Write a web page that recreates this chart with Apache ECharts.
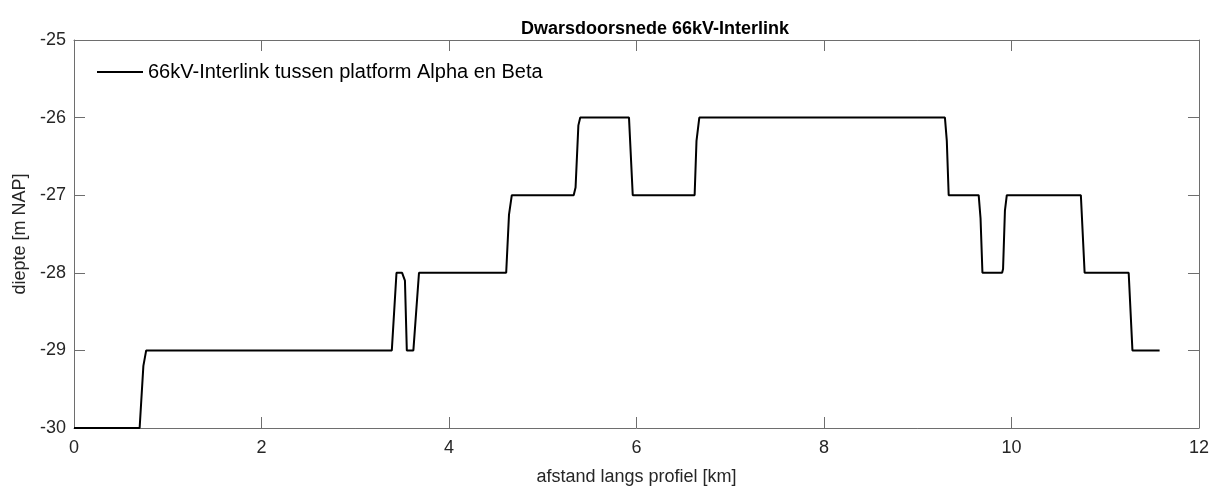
<!DOCTYPE html>
<html>
<head>
<meta charset="utf-8">
<script src="https://cdn.jsdelivr.net/npm/echarts@6/dist/echarts.min.js"></script>
<style>
  html, body { margin: 0; padding: 0; background: #fff; }
  #main { width: 1212px; height: 491px; }
</style>
</head>
<body>
<div id="main"></div>
<script>
// profiel: afstand [km] en diepte [m NAP]
var afstand = [0, 0.70, 0.74, 0.77, 3.39, 3.44, 3.50, 3.53, 3.55, 3.62, 3.68,
    4.61, 4.64, 4.67, 5.33, 5.35, 5.38, 5.40, 5.92, 5.96, 6.62, 6.64, 6.67,
    9.29, 9.31, 9.33, 9.65, 9.67, 9.69, 9.90, 9.91, 9.93, 9.95, 10.74, 10.78,
    11.25, 11.29, 11.58];
var diepte = [-30, -30, -29.2, -29, -29, -28, -28, -28.1, -29, -29, -28,
    -28, -27.25, -27, -27, -26.9, -26.1, -26, -26, -27, -27, -26.3, -26,
    -26, -26.3, -27, -27, -27.3, -28, -28, -27.95, -27.2, -27, -27, -28,
    -28, -29, -29];
var xTicks = [0, 2, 4, 6, 8, 10, 12];
var yTicks = [-30, -29, -28, -27, -26, -25];
var serieNaam = '66kV-Interlink tussen platform Alpha en Beta';

var myChart = echarts.init(document.getElementById('main'));

var punten = [];
for (var i = 0; i < afstand.length; i++) {
    punten.push([afstand[i], diepte[i]]);
}

var tekstKleur = '#262626';
var lijnKleur = '#6e6e6e';
var font = 'Liberation Sans, Arial, sans-serif';

function asStijl(extra) {
    var base = {
        type: 'value',
        axisLine: { show: true, onZero: false, lineStyle: { color: lijnKleur, width: 1 } },
        axisTick: { show: true, inside: true, length: 11, lineStyle: { color: lijnKleur } },
        splitLine: { show: false }
    };
    for (var k in extra) { base[k] = extra[k]; }
    return base;
}

myChart.setOption({
    backgroundColor: '#fff',
    animation: false,
    textStyle: { fontFamily: font },
    title: {
        text: 'Dwarsdoorsnede 66kV-Interlink',
        left: 650,
        textAlign: 'center',
        top: 15,
        textStyle: { fontSize: 18, fontWeight: 'bold', color: '#000', fontFamily: font }
    },
    legend: {
        left: 92,
        top: 57,
        icon: 'rect',
        itemWidth: 46,
        itemHeight: 2,
        itemGap: 5,
        textStyle: { fontSize: 20, color: '#000', fontFamily: font },
        data: [serieNaam]
    },
    grid: { left: 74, right: 13, top: 40, bottom: 62, show: false },
    xAxis: [
        asStijl({
            position: 'bottom', min: 0, max: 12, interval: 2,
            name: 'afstand langs profiel [km]', nameLocation: 'middle', nameGap: 40,
            nameTextStyle: { fontSize: 18, color: tekstKleur, fontFamily: font },
            axisLabel: { fontSize: 18, color: tekstKleur, margin: 11,
                formatter: function (v) { return xTicks.indexOf(v) >= 0 ? String(v) : ''; } }
        }),
        asStijl({ position: 'top', min: 0, max: 12, interval: 2, axisLabel: { show: false } })
    ],
    yAxis: [
        asStijl({
            position: 'left', min: -30, max: -25, interval: 1,
            name: 'diepte [m NAP]', nameLocation: 'middle', nameGap: 44,
            nameTextStyle: { fontSize: 18, color: tekstKleur, fontFamily: font },
            axisLabel: { fontSize: 18, color: tekstKleur, margin: 8,
                formatter: function (v) { return yTicks.indexOf(v) >= 0 ? String(v) : ''; } }
        }),
        asStijl({ position: 'right', min: -30, max: -25, interval: 1, axisLabel: { show: false } })
    ],
    series: [{
        name: serieNaam,
        type: 'line',
        data: punten,
        symbol: 'none',
        smooth: false,
        itemStyle: { color: '#000' },
        lineStyle: { color: '#000', width: 2 }
    }]
});
</script>
</body>
</html>
